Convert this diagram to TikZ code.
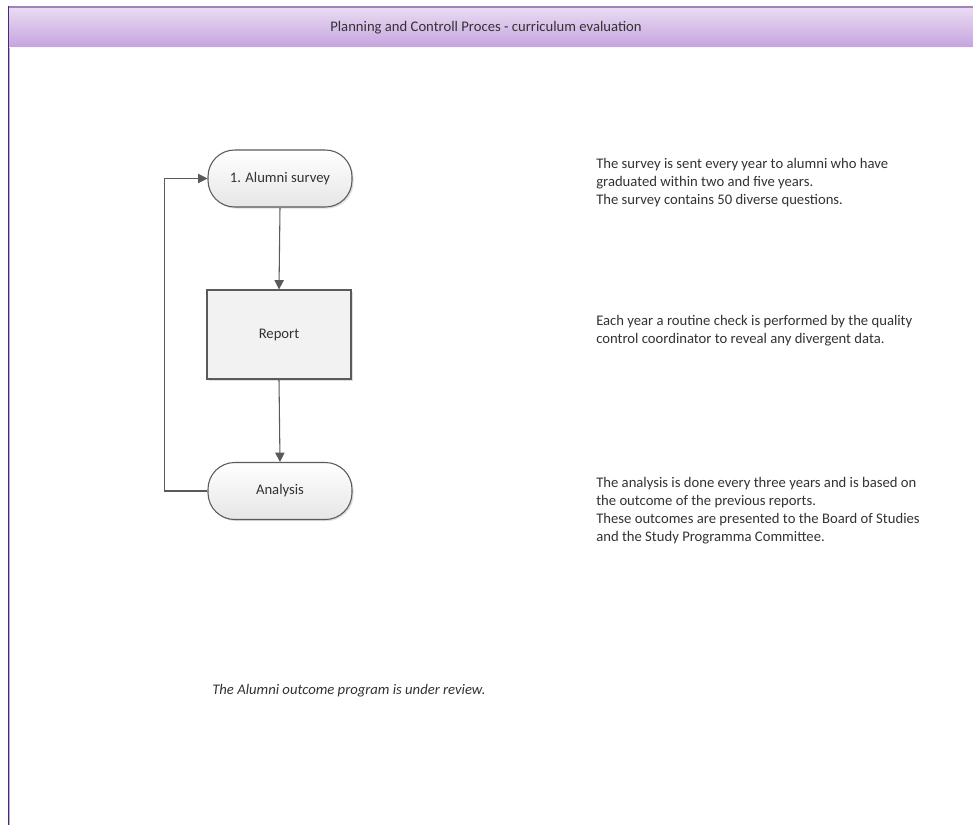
\documentclass[tikz,border=0pt]{standalone}
\usepackage{fontspec}
\setmainfont{Carlito}
\usetikzlibrary{arrows.meta,shadows}
\definecolor{txt}{HTML}{333333}
\definecolor{edge}{HTML}{5A5A5A}
\definecolor{hdtop}{HTML}{EADCF2}
\definecolor{hdbot}{HTML}{C6A4E0}
\definecolor{hdline}{HTML}{A182BE}
\definecolor{leftline}{HTML}{4A2A78}
\definecolor{termbot}{HTML}{E6E6E6}
\tikzset{
  term/.style={draw=edge, line width=0.8pt, rounded corners=20pt, minimum width=108pt, minimum height=42.75pt,
    top color=white, bottom color=termbot, inner sep=0pt, font=\fontsize{11}{13.5}\selectfont, text=txt,
    drop shadow={shadow xshift=1.2pt, shadow yshift=-1.2pt, opacity=0.25}},
  procbox/.style={draw=edge, line width=0.8pt, minimum width=108pt, minimum height=66.75pt, fill=black!5,
    inner sep=0pt, font=\fontsize{11}{13.5}\selectfont, text=txt,
    drop shadow={shadow xshift=1.2pt, shadow yshift=-1.2pt, opacity=0.25}},
  conn/.style={draw=edge, line width=0.8pt, -{Triangle[length=7pt,width=7pt]}},
  note/.style={anchor=base west, align=left, inner sep=0pt, font=\fontsize{11}{13.5}\selectfont, text=txt},
}
\begin{document}
\begin{tikzpicture}[x=0.75pt,y=-0.75pt]
\useasboundingbox (0,0) rectangle (973,825);
\fill[white] (0,0) rectangle (973,825);
% header
\shade[top color=hdtop, bottom color=hdbot] (8,7) rectangle (973,47);
\draw[hdline, line width=1.5pt] (8,6.5) -- (973,6.5);
\draw[white!90!hdbot, line width=0.8pt] (9,47.5) -- (973,47.5);
\draw[leftline, line width=1.2pt] (8.5,6) -- (8.5,825);
\draw[hdline!70, line width=0.5pt] (9.8,48) -- (9.8,825);
\node[font=\fontsize{11}{13.5}\selectfont, text=txt] (title) at (486,27.5) {Planning and Controll Proces - curriculum evaluation};
% flow
\node[term] (alumni) at (280,178.5) {1. Alumni survey};
\node[procbox] (report) at (279,334.5) {Report};
\node[term] (analysis) at (280,491) {Analysis};
\draw[conn] (alumni.south) -- (report.north);
\draw[conn] (report.south) -- (analysis.north);
\draw[conn] (analysis.west) -- ++(-43,0) |- (alumni.west);
% notes (anchor is the baseline of the last line)
\node[note] (n1) at (596,204) {The survey is sent every year to alumni who have\\graduated within two and five years.\\The survey contains 50 diverse questions.};
\node[note] (n2) at (596,343) {Each year a routine check is performed by the quality\\control coordinator to reveal any divergent data.};
\node[note] (n3) at (596,541) {The analysis is done every three years and is based on\\the outcome of the previous reports.\\These outcomes are presented to the Board of Studies\\and the Study Programma Committee.};
\node[note, font=\fontsize{11}{13.5}\selectfont\itshape] (n4) at (212,694) {The Alumni outcome program is under review.};
\end{tikzpicture}
\end{document}
